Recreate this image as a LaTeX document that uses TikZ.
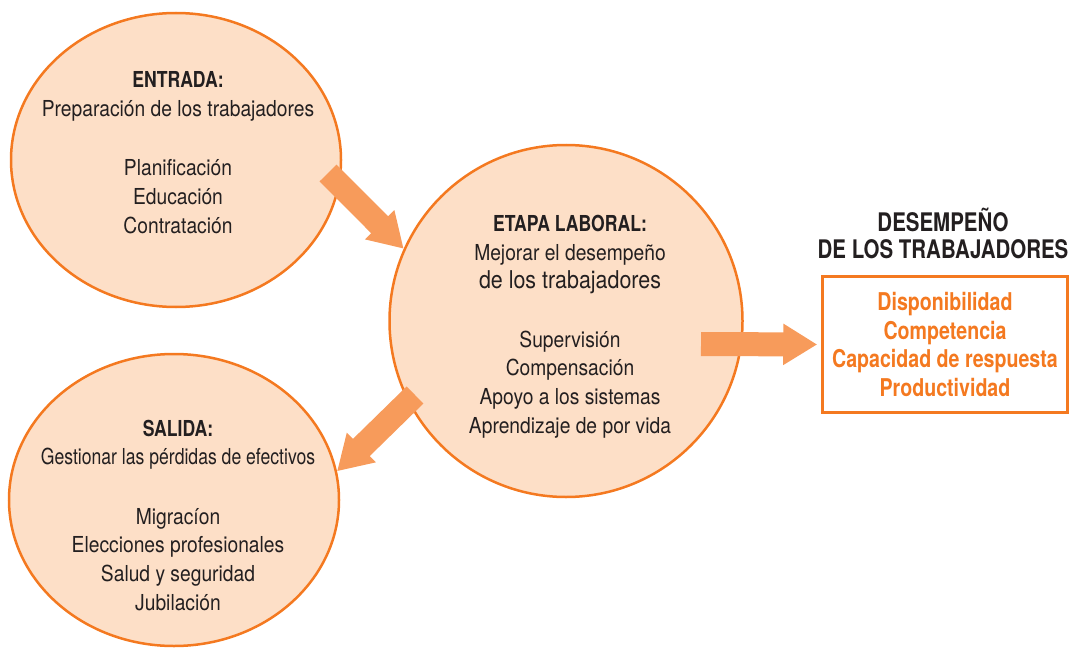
\documentclass[tikz,border=0pt]{standalone}
\usepackage{fontspec}
\setmainfont{TeX Gyre Heros}[FakeStretch=0.875]
\newfontfamily\bcond{TeX Gyre Heros}[FakeStretch=0.8]
\newfontfamily\ncond{TeX Gyre Heros}[FakeStretch=0.8]
\usetikzlibrary{shapes.geometric,arrows.meta}
\definecolor{ofill}{HTML}{FDDFC7}
\definecolor{oline}{HTML}{F47920}
\definecolor{oarrow}{HTML}{F79B5B}
\definecolor{dtext}{HTML}{231F20}
\newcommand{\hd}[1]{{\bcond\bfseries #1}}
\begin{document}
\begin{tikzpicture}[x=1pt,y=-1pt,
  bubble/.style={ellipse, draw=oline, fill=ofill, line width=2.5pt, inner sep=0pt},
  body/.style={align=center, anchor=base, text=dtext, inner sep=0pt, font=\fontsize{22}{28.6}\selectfont},
  fat/.style={draw=oarrow, line width=24pt, -{Triangle[width=39pt,length=34pt]}},
  titletext/.style={align=center, anchor=base, text=dtext, inner sep=0pt, font=\bcond\bfseries\fontsize{25.6}{26.5}\selectfont},
  resultbox/.style={draw=oline, line width=2.5pt, align=center, text=oline, inner sep=0pt, font=\bcond\bfseries\fontsize{24.5}{28.6}\selectfont}
]
\useasboundingbox (0,0) rectangle (1073,650);
\node[bubble, minimum width=330pt, minimum height=294pt] (c1) at (176,160) {};
\node[bubble, minimum width=353pt, minimum height=352pt] (c2) at (566,321) {};
\node[bubble, minimum width=330pt, minimum height=292pt] (c3) at (174,500) {};

% anchor=base is the baseline of the last line
\node[body] (t1) at (178,233) {\hd{ENTRADA:}\\Preparación de los trabajadores\\[31pt]Planificación\\Educación\\Contratación};
\node[body] (t2) at (570,433) {\hd{ETAPA LABORAL:}\\Mejorar el desempeño\\{\fontsize{24.5}{28.6}\selectfont de los trabajadores}\\[30pt]Supervisión\\Compensación\\Apoyo a los sistemas\\Aprendizaje de por vida};
\node[body] (t3) at (178,610) {\hd{SALIDA:}\\{\ncond Gestionar las pérdidas de efectivos}\\[31pt]Migracíon\\Elecciones profesionales\\Salud y seguridad\\Jubilación};

\node[resultbox, minimum width=245pt, minimum height=136pt] (box) at (945,344.5) {Disponibilidad\\Competencia\\Capacidad de respuesta\\Productividad};
\node[titletext] (title) at (943,258) {DESEMPEÑO\\DE LOS TRABAJADORES};

\coordinate (a1) at (328,173);
\coordinate (a2) at (415,395);
\coordinate (a3) at (701,344);
\draw[fat] (a1) -- (c2.156);
\draw[fat] (a2) -- (c3.10);
\draw[fat] (a3) -- ([xshift=-4pt]box.west);
\end{tikzpicture}
\end{document}
